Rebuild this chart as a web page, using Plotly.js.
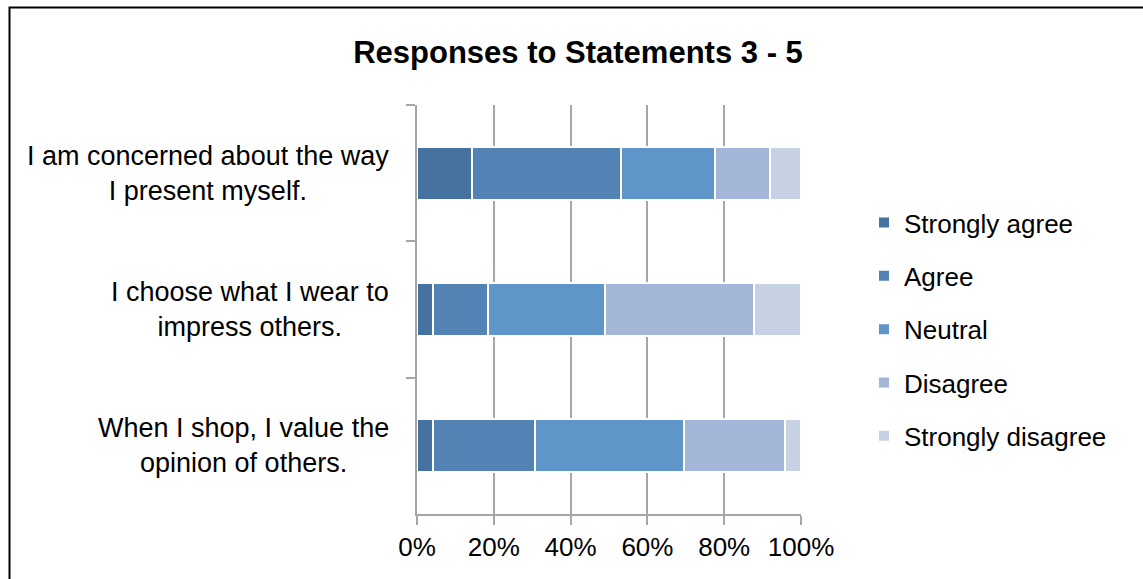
<!DOCTYPE html>
<html>
<head>
<meta charset="utf-8">
<script src="https://cdn.plot.ly/plotly-3.0.1.min.js"></script>
<style>
html,body{margin:0;padding:0;background:#fff;overflow:hidden;}
#chart{width:1143px;height:579px;}
</style>
</head>
<body>
<div id="chart"></div>
<script>
// ---- data (percent of respondents) ----
var categories = [
  "I am concerned about the way<br>I present myself.",
  "I choose what I wear to<br>impress others.",
  "When I shop, I value the<br>opinion of others."
];
var seriesNames = ["Strongly agree", "Agree", "Neutral", "Disagree", "Strongly disagree"];
var stronglyAgree    = [14.3, 4.1, 4.1];
var agree            = [38.8, 14.3, 26.5];
var neutral          = [24.5, 30.6, 38.8];
var disagree         = [14.3, 38.8, 26.5];
var stronglyDisagree = [8.2, 12.2, 4.1];
var xTickVals = [0, 20, 40, 60, 80, 100];
var xTickText = ["0%", "20%", "40%", "60%", "80%", "100%"];

var seriesValues = [stronglyAgree, agree, neutral, disagree, stronglyDisagree];
var colors = ["#4672A0", "#5383B5", "#5F95C9", "#A3B6D8", "#C6D2E4"];

var FONT = "Liberation Sans, Arial, sans-serif";

var traces = seriesNames.map(function (name, i) {
  return {
    type: "bar",
    orientation: "h",
    name: name,
    legendgroup: "g" + i,
    y: categories,
    x: seriesValues[i],
    marker: { color: colors[i], line: { color: "#ffffff", width: 2 } },
    hoverinfo: "x+name"
  };
});

var annotations = categories.map(function (c) {
  return {
    text: c,
    xref: "paper", yref: "y",
    x: -0.068, y: c,
    xanchor: "right", yanchor: "middle",
    align: "center",
    showarrow: false,
    font: { family: FONT, size: 27, color: "#000" }
  };
});

var layout = {
  width: 1143, height: 579,
  margin: { l: 417, r: 342, t: 105, b: 65, pad: 0 },
  paper_bgcolor: "#ffffff",
  plot_bgcolor: "#ffffff",
  barmode: "stack",
  barnorm: "percent",
  bargap: 0.61,
  font: { family: FONT, size: 26, color: "#000" },
  title: {
    text: "<b>Responses to Statements 3 - 5</b>",
    font: { family: FONT, size: 31, color: "#000" },
    x: 578 / 1143, xanchor: "center",
    y: 1 - 52 / 579, yanchor: "middle",
    xref: "container", yref: "container"
  },
  xaxis: {
    range: [0, 100],
    tickvals: xTickVals,
    ticktext: xTickText,
    showgrid: true,
    gridcolor: "#a6a6a6",
    gridwidth: 2,
    zeroline: false,
    showline: true,
    linecolor: "#a6a6a6",
    linewidth: 2,
    ticks: "outside",
    ticklen: 9,
    tickwidth: 2,
    tickcolor: "#a6a6a6",
    tickfont: { family: FONT, size: 26, color: "#000" },
    fixedrange: true
  },
  yaxis: {
    type: "category",
    autorange: "reversed",
    showticklabels: false,
    showgrid: false,
    zeroline: false,
    showline: true,
    linecolor: "#a6a6a6",
    linewidth: 2,
    ticks: "outside",
    tickson: "boundaries",
    ticklen: 9,
    tickwidth: 2,
    tickcolor: "#a6a6a6",
    fixedrange: true
  },
  showlegend: true,
  legend: {
    x: 1.164, xanchor: "left",
    y: 0.452, yanchor: "middle",
    traceorder: "grouped",
    tracegroupgap: 16.5,
    font: { family: FONT, size: 26, color: "#000" },
    bgcolor: "rgba(0,0,0,0)",
    borderwidth: 0
  },
  annotations: annotations,
  shapes: [{
    type: "rect", xref: "paper", yref: "paper",
    x0: (9.5 - 417) / 384, x1: 2.2,
    y0: -0.5, y1: (514 - 7.5) / 409,
    line: { color: "#000", width: 2 },
    fillcolor: "rgba(0,0,0,0)",
    layer: "above"
  }]
};

Plotly.newPlot("chart", traces, layout, { displayModeBar: false, staticPlot: true });
</script>
</body>
</html>
